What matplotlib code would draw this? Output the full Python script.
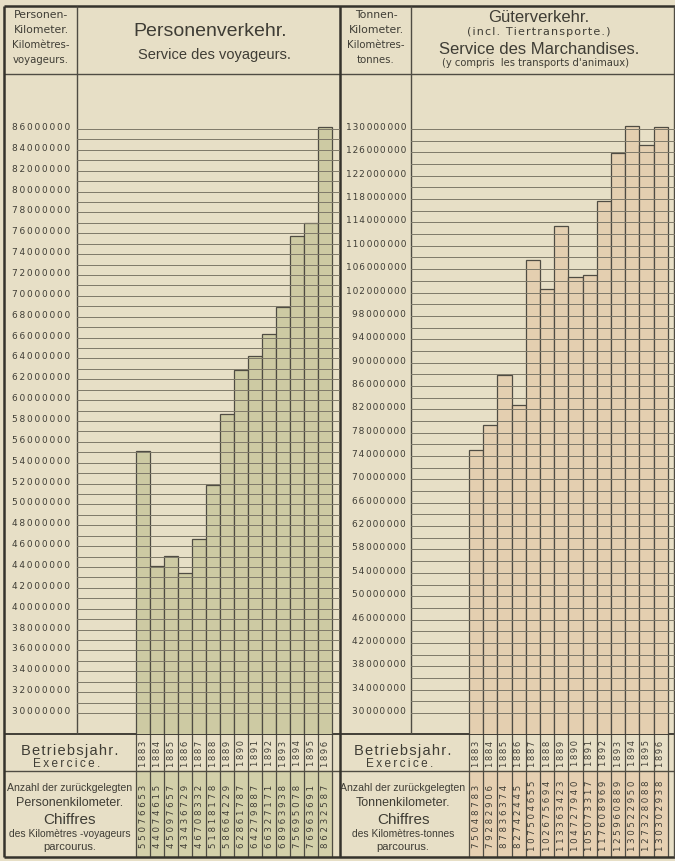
import numpy as np
import matplotlib.pyplot as plt
from matplotlib.ticker import FixedLocator, FuncFormatter
from matplotlib.transforms import ScaledTranslation

jahre = ['1883', '1884', '1885', '1886', '1887', '1888', '1889',
         '1890', '1891', '1892', '1893', '1894', '1895', '1896']
personen_km = [55076653, 44074615, 45097657, 43436729, 46708332, 51818178, 58664229,
               62861787, 64279887, 66327171, 68963938, 75695078, 76963691, 86232587]
tonnen_km = [75048783, 79282906, 87836374, 82742445, 107504655, 102675694, 113363423,
             104727940, 105073317, 117608969, 125960889, 130522950, 127328088, 130302938]

PAPIER = '#e7dfc6'
TINTE = '#3f3d35'
LINIE = '#4f4c43'
GRUEN = '#cdcaa3'
GRUEN_HELL = '#d3d0aa'
BRAUN = '#e4cfb0'
BRAUN_HELL = '#e6d0b2'
SCHMAL = ['Liberation Sans', 'DejaVu Sans']

W, H = 675, 861
fig = plt.figure(figsize=(W / 100, H / 100), dpi=100)
fig.patch.set_facecolor(PAPIER)


def px_axes(x0, y0, x1, y1):
    return fig.add_axes([x0 / W, 1 - y1 / H, (x1 - x0) / W, (y1 - y0) / H])


bg = px_axes(0, 0, W, H)
bg.set_xlim(0, W)
bg.set_ylim(H, 0)
bg.axis('off')

# Rasterzeilen (Pixel)
Y_TOP, Y_HEAD, Y_CHART, Y_JAHR, Y_BOT = 6, 74, 734, 771, 857
Y_LINE_OBEN, Y_LINE_30 = 129, 713


def sperren(s, sep='\u2009'):
    return sep.join(s)


def diagramm(x0, x1, bar_x0, bar_w, werte, farbe, tint, v_oben, schritt_label, schritt_linie,
             fmt, pad, labelsize):
    ax = px_axes(x0, Y_HEAD, x1, Y_CHART)
    ax.set_facecolor('none')
    scale = (Y_LINE_30 - Y_LINE_OBEN) / (v_oben - 30e6)
    ax.set_ylim(30e6 - (Y_CHART - Y_LINE_30) / scale, v_oben + (Y_LINE_OBEN - Y_HEAD) / scale)
    n = len(werte)
    ax.set_xlim(-(bar_x0 - x0) / bar_w, (x1 - bar_x0) / bar_w)
    ax.bar(np.arange(n), werte, width=1, align='edge', color=farbe,
           edgecolor=LINIE, linewidth=0.9, zorder=1)
    ax.yaxis.set_major_locator(FixedLocator(np.arange(30e6, v_oben + 1, schritt_label)))
    ax.yaxis.set_minor_locator(FixedLocator(np.arange(30e6 + schritt_linie, v_oben, schritt_label)))
    ax.yaxis.set_major_formatter(FuncFormatter(fmt))
    ax.grid(axis='y', which='both', color='#7e7969', linewidth=0.7)
    ax.set_axisbelow(False)
    ax.tick_params(axis='y', which='both', length=0, pad=pad, labelsize=labelsize,
                   labelcolor=TINTE)
    ax.set_xticks([])
    for s in ax.spines.values():
        s.set_visible(False)
    off = ScaledTranslation(0, 2.5 / 100, fig.dpi_scale_trans)
    for t in ax.yaxis.get_major_ticks():
        t.label1.set_transform(t.label1.get_transform() + off)

    # Tabelle unter dem Diagramm
    kanten = bar_x0 + bar_w * np.arange(n + 1)
    bg.fill_between([kanten[0], kanten[-1]], Y_JAHR, Y_BOT, color=tint, zorder=0)
    bg.vlines(kanten, Y_CHART, Y_BOT, color=LINIE, linewidth=0.9)
    for i in range(n):
        xm = (kanten[i] + kanten[i + 1]) / 2
        bg.text(xm, (Y_CHART + Y_JAHR) / 2 + 1, sperren(jahre[i]), rotation=90,
                ha='center', va='center', fontsize=6, color=TINTE)
        zahl = str(werte[i])
        bg.text(xm, (Y_JAHR + Y_BOT) / 2 + 2, sperren(zahl, ' ' if len(zahl) < 9 else '\u2009\u200a'),
                rotation=90, ha='center', va='center', fontsize=6.2, color=TINTE)
    return ax


fmt_links = lambda v, _: sperren(str(int(v)))
fmt_rechts = lambda v, _: '\u2009'.join(sperren(g, '\u200a') for g in f'{int(v):,}'.split(','))

diagramm(77, 340, 136, 14.0, personen_km, GRUEN, GRUEN_HELL, 86e6, 2e6, 1e6, fmt_links, 5, 6.5)
diagramm(411, 675, 469, 14.2, tonnen_km, BRAUN, BRAUN_HELL, 130e6, 4e6, 2e6, fmt_rechts, 3.6, 6.5)

# Rahmen
bg.hlines([Y_TOP, Y_BOT], 4, 675, color='#35332c', linewidth=1.8)
bg.hlines([Y_HEAD, Y_JAHR], 4, 675, color=LINIE, linewidth=1.0)
bg.hlines(Y_CHART, 4, 675, color='#35332c', linewidth=1.3)
bg.vlines([4, 340], Y_TOP, Y_BOT, color='#35332c', linewidth=1.8)
bg.vlines([77, 411], Y_TOP, Y_CHART, color=LINIE, linewidth=1.0)
bg.vlines(674, Y_TOP, Y_BOT, color=LINIE, linewidth=1.0)

# Kopf links
for y, s in [(15, 'Personen-'), (30, 'Kilometer.'), (45, 'Kilomètres-'), (60, 'voyageurs.')]:
    bg.text(41, y, s, ha='center', va='center', fontsize=7.8 if y < 40 else 7.3, color=TINTE)
bg.text(210, 32, 'Personenverkehr.', ha='center', va='center', fontsize=14,
        family='Liberation Sans', color=TINTE)
bg.text(214, 55, 'Service des voyageurs.', ha='center', va='center', fontsize=10.5,
        family=SCHMAL, color=TINTE)

# Kopf rechts
for y, s in [(15, 'Tonnen-'), (30, 'Kilometer.'), (45, 'Kilomètres-'), (60, 'tonnes.')]:
    bg.text(376, y, s, ha='center', va='center', fontsize=7.8 if y < 40 else 7.3, color=TINTE)
bg.text(539, 17, 'Güterverkehr.', ha='center', va='center', fontsize=12,
        family='Liberation Sans', color=TINTE)
bg.text(539, 32, sperren('(incl. Tiertransporte.)', '\u200a'), ha='center', va='center',
        fontsize=8, color=TINTE)
bg.text(539, 49, 'Service des Marchandises.', ha='center', va='center', fontsize=12,
        family='Liberation Sans', color=TINTE)
bg.text(535, 63, '(y compris  les transports d\'animaux)', ha='center', va='center',
        fontsize=7.2, color=TINTE)

# Tabellenbeschriftung
for xc, art, einheit in [(70, 'Personenkilometer.', 'des Kilomètres -voyageurs'),
                         (403, 'Tonnenkilometer.', 'des Kilomètres-tonnes')]:
    bg.text(xc, 751, sperren('Betriebsjahr.', '\u200a'), ha='center', va='center', fontsize=10.5,
            color=TINTE, family='Liberation Sans')
    bg.text(xc - 3, 764, sperren('Exercice.', '\u2009'), ha='center', va='center', fontsize=8.5,
            color=TINTE, family='Liberation Sans')
    bg.text(xc, 788, 'Anzahl der zurückgelegten', ha='center', va='center', fontsize=7.6,
            family=SCHMAL, color=TINTE)
    bg.text(xc, 803, art, ha='center', va='center', fontsize=9, family=SCHMAL, color=TINTE)
    bg.text(xc, 820, 'Chiffres', ha='center', va='center', fontsize=11, family=SCHMAL, color=TINTE)
    bg.text(xc, 834, einheit, ha='center', va='center', fontsize=7.4, family=SCHMAL, color=TINTE)
    bg.text(xc, 847, 'parcourus.', ha='center', va='center', fontsize=8, family=SCHMAL, color=TINTE)

fig.savefig('out.png', dpi=100, facecolor=PAPIER)
